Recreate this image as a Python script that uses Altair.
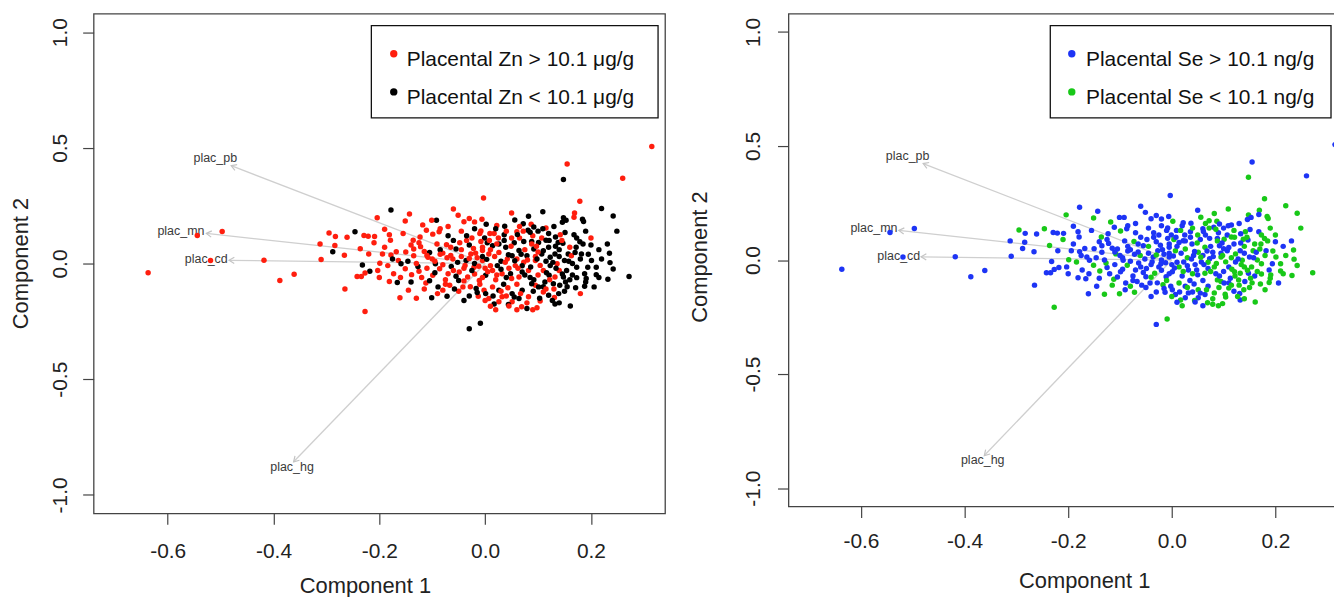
import altair as alt
import pandas as pd

# ---------------- data ----------------
pc1 = [
    -0.637, -0.544, -0.497, -0.519, -0.418, -0.388, -0.361, -0.312, -0.310, -0.295,
    0.315, -0.178, -0.246, -0.092, -0.143, -0.151, -0.204, -0.190, -0.283, -0.261,
    -0.229, -0.221, -0.209, -0.181, -0.179, -0.118, -0.101, -0.060, -0.051, -0.040,
    -0.030, -0.006, -0.003, -0.111, -0.099, -0.087, -0.123, -0.136, 0.155, 0.148,
    0.260, 0.179, 0.220, 0.242, 0.249, 0.050, 0.109, 0.082, 0.169, 0.168,
    0.148, 0.153, 0.146, 0.184, 0.186, 0.056, 0.002, 0.022, 0.037, 0.072,
    0.087, 0.092, 0.115, 0.081, 0.072, 0.060, 0.009, 0.017, -0.008, 0.036,
    0.151, 0.142, 0.133, 0.168, 0.173, 0.179, 0.231, -0.001, 0.004, 0.050,
    0.065, 0.101, 0.107, 0.115, 0.147, 0.088, 0.026, -0.288, -0.232, -0.218,
    -0.284, -0.266, -0.236, -0.220, -0.194, -0.178, -0.168, -0.199, -0.184, -0.203,
    -0.227, -0.242, -0.234, -0.265, -0.227, -0.161, -0.181, -0.173, -0.164, -0.151,
    -0.159, -0.166, -0.145, -0.146, -0.139, -0.135, -0.135, -0.122, -0.125, -0.127,
    -0.112, -0.101, -0.105, -0.099, -0.108, -0.105, -0.091, -0.094, -0.086, -0.089,
    -0.080, -0.072, -0.067, -0.070, -0.064, -0.061, -0.055, -0.073, -0.049, -0.050,
    -0.042, -0.033, -0.036, -0.027, -0.021, -0.017, -0.013, -0.011, -0.030, -0.009,
    -0.005, 0.235, 0.236, 0.242, 0.272, 0.232, 0.201, 0.210, 0.210, 0.194,
    0.188, 0.173, 0.173, 0.191, 0.206, 0.188, 0.171, 0.161, 0.132, 0.079,
    0.098, 0.069, 0.104, 0.131, 0.141, 0.154, 0.150, 0.157, 0.163, 0.170,
    0.160, 0.185, 0.182, 0.138, 0.132, 0.136, 0.123, 0.121, 0.113, 0.129,
    0.095, 0.101, 0.088, 0.070, 0.051, 0.051, 0.044, 0.045, 0.026, 0.017,
    0.007, -0.002, 0.001, 0.014, 0.026, -0.005, 0.007, -0.005, 0.014, 0.026,
    0.039, 0.042, 0.051, 0.057, 0.064, 0.073, 0.079, 0.088, 0.092, 0.095,
    0.107, 0.082, 0.070, 0.064, 0.048, 0.032, 0.023, 0.014, 0.001, 0.110,
    0.123, 0.132, 0.148, 0.110, 0.120, 0.082, 0.064, 0.032, -0.115, -0.080,
    -0.065, -0.045, -0.030, -0.015, 0.000, -0.040, -0.055, -0.020, -0.010, 0.020,
    0.035, 0.045, 0.060, 0.075, 0.030, 0.010, -0.025, -0.060, -0.045, -0.070,
    -0.020, 0.040, 0.055, 0.090, 0.120, 0.100, 0.120, 0.140, 0.100, 0.085,
    0.060, 0.040, 0.110, 0.150, 0.130, 0.160, 0.040, 0.020, 0.060, -0.030,
    -0.050, -0.100, -0.085, -0.140, -0.110, -0.075, -0.020, 0.005, 0.070, 0.095,
    0.115, 0.140, 0.165, 0.195, 0.215, 0.190, 0.200, -0.005, 0.025, -0.035,
    -0.095, -0.080, -0.072, -0.060, -0.052, -0.045, -0.038, -0.030, -0.025, -0.018,
    -0.012, -0.005, 0.003, 0.010, 0.018, 0.022, 0.030, 0.038, 0.044, 0.050,
    0.056, 0.062, 0.068, 0.075, 0.080, 0.086, 0.092, 0.098, 0.104, 0.110,
    0.116, 0.122, 0.128, 0.134, 0.140, 0.146, 0.152, 0.158, 0.165, 0.172,
    -0.110, -0.120, -0.130, -0.095, -0.085, -0.075, -0.065, -0.058, -0.048, -0.040,
    -0.035, -0.028, -0.022, -0.015, -0.008, 0.000, 0.008, 0.015, 0.022, 0.030,
    0.036, 0.043, 0.049, 0.055, 0.061, 0.067, 0.073, 0.079, 0.085, 0.091,
    0.097, 0.103, 0.109, 0.115, 0.121, 0.127, 0.133, 0.139, 0.145, 0.155,
    -0.150, -0.160, -0.140, -0.125, -0.115, -0.190, -0.200, -0.175, -0.155, -0.210,
    -0.085, -0.070, -0.010, 0.020, 0.065, 0.100, 0.130, 0.180, 0.190, 0.200,
    0.220, 0.215, 0.180, 0.140, 0.090, 0.010, -0.040, -0.090, -0.130, -0.020,
]

pc2 = [
    -0.040, 0.121, 0.138, 0.013, 0.014, -0.073, -0.046, 0.084, 0.017, 0.132,
    0.506, 0.231, 0.137, 0.187, 0.214, 0.184, 0.198, 0.148, 0.117, 0.114,
    0.121, 0.118, 0.117, 0.124, 0.101, 0.167, 0.187, 0.236, 0.209, 0.181,
    0.195, 0.191, 0.283, 0.144, 0.127, 0.137, 0.115, 0.101, 0.430, 0.363,
    0.369, 0.269, 0.238, 0.205, 0.140, 0.218, 0.224, 0.204, 0.218, 0.200,
    0.198, 0.187, 0.178, 0.191, 0.182, 0.188, 0.170, 0.164, 0.161, 0.172,
    0.170, 0.158, 0.154, 0.144, 0.140, 0.137, 0.130, 0.130, 0.141, 0.124,
    0.134, 0.124, 0.115, 0.124, 0.110, 0.094, 0.084, 0.110, 0.090, 0.110,
    0.110, 0.091, 0.110, 0.101, 0.088, 0.095, 0.084, 0.051, -0.006, -0.033,
    0.078, 0.036, 0.064, 0.041, 0.041, 0.037, 0.051, 0.001, -0.009, -0.030,
    -0.041, -0.056, -0.056, -0.110, -0.207, -0.148, -0.078, -0.044, 0.013, -0.023,
    -0.001, -0.082, -0.115, 0.010, -0.048, 0.034, 0.063, 0.073, -0.033, -0.013,
    -0.084, -0.148, -0.074, -0.051, 0.027, 0.048, 0.084, -0.001, -0.023, -0.101,
    -0.115, -0.141, -0.094, -0.044, -0.013, 0.020, 0.063, 0.081, -0.037, -0.073,
    -0.101, -0.058, 0.013, 0.041, -0.016, -0.108, -0.141, -0.073, -0.282, -0.258,
    0.056, 0.044, 0.004, -0.024, -0.056, -0.068, 0.013, -0.016, -0.048, -0.016,
    -0.044, -0.016, -0.061, -0.065, -0.101, -0.098, -0.105, -0.184, -0.175, -0.194,
    -0.191, -0.187, -0.162, -0.147, -0.094, -0.030, 0.013, 0.041, 0.034, 0.048,
    0.070, 0.084, 0.041, 0.091, 0.041, -0.001, -0.009, -0.051, -0.080, -0.087,
    -0.094, -0.101, -0.087, -0.115, -0.130, -0.165, -0.177, -0.184, -0.165, -0.175,
    -0.151, -0.115, -0.130, -0.101, -0.115, 0.013, 0.041, 0.070, 0.077, 0.048,
    0.070, 0.020, 0.034, -0.009, 0.056, 0.006, 0.034, 0.084, 0.063, 0.013,
    0.041, -0.030, -0.037, -0.058, -0.044, -0.044, -0.009, -0.030, -0.051, -0.030,
    0.027, -0.058, -0.058, -0.123, -0.137, -0.144, -0.151, -0.144, 0.052, 0.045,
    0.035, 0.060, 0.080, 0.025, -0.020, -0.020, -0.055, -0.045, -0.090, -0.070,
    -0.090, -0.020, 0.020, 0.060, 0.010, 0.060, 0.110, 0.100, 0.140, 0.160,
    0.150, 0.140, 0.090, 0.120, 0.130, 0.050, 0.070, 0.060, -0.050, -0.060,
    -0.090, -0.060, -0.100, -0.120, -0.110, -0.070, -0.140, -0.200, -0.200, -0.140,
    -0.120, 0.020, 0.060, 0.080, -0.020, -0.070, 0.000, -0.035, -0.010, 0.030,
    0.010, -0.030, 0.000, 0.040, 0.060, 0.140, 0.110, 0.030, 0.110, 0.100,
    0.010, -0.005, 0.025, -0.030, 0.005, 0.030, -0.008, 0.022, -0.030, 0.045,
    -0.012, -0.060, 0.018, -0.010, 0.030, -0.050, -0.025, 0.005, 0.038, -0.065,
    0.012, -0.020, 0.040, -0.050, 0.015, -0.015, -0.070, 0.020, -0.008, 0.055,
    -0.040, -0.070, 0.005, -0.020, 0.030, -0.045, -0.080, 0.010, -0.050, 0.070,
    0.035, -0.060, 0.000, -0.040, 0.040, -0.090, 0.070, -0.110, 0.090, -0.075,
    0.120, -0.100, 0.065, -0.125, 0.095, -0.160, 0.100, -0.140, 0.085, -0.120,
    0.100, -0.105, 0.075, -0.145, 0.125, -0.130, 0.095, -0.170, 0.135, -0.120,
    0.075, -0.150, 0.150, -0.110, 0.100, -0.160, 0.075, -0.130, 0.100, -0.100,
    0.050, -0.060, -0.080, 0.090, -0.110, 0.070, -0.060, 0.020, 0.130, 0.090,
    0.150, 0.120, 0.130, 0.150, 0.160, 0.140, 0.160, 0.020, -0.080, 0.080,
    0.020, -0.060, -0.130, -0.170, -0.200, -0.185, -0.160, -0.130, -0.150, 0.180,
]

# 1 = placental Zn above 10.1 ug/g, 0 = below
zn_high = [
    1, 1, 1, 1, 1, 1, 1, 1, 1, 1,
    1, 0, 0, 0, 1, 1, 1, 1, 1, 1,
    1, 1, 1, 1, 1, 1, 1, 1, 1, 1,
    1, 1, 1, 1, 1, 1, 1, 1, 1, 0,
    1, 1, 0, 0, 0, 1, 0, 0, 1, 1,
    0, 0, 0, 0, 0, 0, 0, 1, 0, 0,
    1, 0, 1, 0, 1, 1, 1, 1, 1, 0,
    0, 1, 0, 0, 0, 0, 0, 0, 0, 1,
    1, 0, 1, 0, 0, 0, 0, 0, 0, 0,
    1, 1, 1, 1, 1, 1, 1, 1, 1, 1,
    1, 1, 1, 1, 1, 1, 1, 1, 1, 1,
    0, 0, 1, 0, 1, 1, 1, 1, 1, 0,
    1, 0, 0, 1, 1, 0, 1, 0, 1, 0,
    1, 0, 1, 1, 0, 1, 0, 1, 1, 0,
    1, 1, 0, 1, 1, 0, 1, 1, 0, 0,
    1, 0, 0, 0, 0, 0, 0, 0, 0, 0,
    0, 0, 0, 0, 0, 0, 0, 0, 0, 0,
    1, 1, 1, 1, 0, 0, 0, 0, 1, 0,
    1, 0, 0, 0, 0, 1, 0, 0, 0, 0,
    1, 0, 0, 0, 0, 1, 0, 1, 1, 0,
    1, 1, 0, 1, 0, 1, 1, 1, 0, 1,
    0, 1, 0, 1, 0, 1, 0, 1, 0, 1,
    0, 1, 0, 1, 0, 1, 0, 1, 0, 1,
    0, 1, 0, 1, 0, 1, 0, 1, 1, 1,
    1, 1, 0, 1, 1, 1, 0, 1, 1, 1,
    0, 1, 1, 1, 0, 1, 1, 0, 1, 1,
    0, 1, 0, 1, 0, 1, 0, 0, 1, 0,
    1, 0, 0, 0, 1, 0, 1, 1, 1, 0,
    1, 1, 0, 1, 1, 1, 0, 1, 0, 1,
    0, 1, 0, 0, 0, 0, 1, 0, 1, 1,
    1, 1, 1, 1, 0, 1, 1, 1, 0, 1,
    1, 1, 0, 1, 1, 1, 0, 1, 0, 1,
    0, 1, 0, 0, 1, 0, 0, 0, 1, 0,
    0, 1, 0, 0, 0, 0, 0, 0, 0, 0,
    1, 1, 1, 0, 1, 1, 1, 0, 1, 1,
    0, 1, 1, 0, 1, 1, 1, 0, 1, 1,
    0, 1, 1, 0, 0, 1, 0, 1, 0, 0,
    1, 0, 0, 1, 0, 0, 0, 0, 1, 0,
    1, 1, 0, 1, 1, 1, 1, 0, 1, 1,
    1, 0, 1, 0, 1, 0, 0, 0, 0, 0,
    0, 0, 1, 0, 1, 1, 0, 1, 1, 1,
]

# 1 = placental Se above 10.1 ng/g, 0 = below
se_high = [
    1, 1, 1, 1, 1, 1, 1, 1, 1, 0,
    1, 1, 0, 1, 1, 0, 0, 1, 1, 1,
    1, 1, 1, 1, 1, 0, 1, 1, 1, 1,
    1, 1, 1, 1, 0, 1, 1, 0, 1, 0,
    1, 0, 0, 0, 0, 1, 0, 0, 0, 1,
    0, 1, 1, 0, 0, 0, 0, 1, 1, 0,
    0, 1, 1, 1, 0, 1, 1, 0, 1, 1,
    1, 0, 1, 1, 0, 0, 1, 1, 0, 0,
    1, 0, 1, 0, 1, 1, 1, 1, 1, 1,
    1, 1, 0, 1, 1, 1, 1, 0, 0, 1,
    1, 1, 1, 1, 0, 1, 1, 1, 1, 0,
    1, 1, 1, 1, 0, 1, 1, 1, 1, 0,
    0, 0, 1, 1, 0, 1, 1, 1, 0, 1,
    0, 0, 1, 1, 1, 0, 1, 0, 1, 1,
    1, 0, 1, 1, 1, 0, 1, 1, 1, 0,
    1, 0, 0, 0, 0, 0, 0, 0, 0, 1,
    1, 0, 0, 0, 1, 0, 0, 0, 1, 0,
    0, 0, 0, 1, 1, 0, 1, 0, 1, 0,
    0, 0, 1, 0, 1, 0, 1, 0, 1, 0,
    0, 1, 0, 1, 0, 1, 0, 1, 1, 0,
    1, 1, 1, 0, 1, 1, 0, 1, 1, 0,
    1, 1, 0, 1, 0, 1, 1, 0, 1, 0,
    1, 0, 1, 0, 1, 1, 1, 0, 1, 1,
    0, 0, 1, 0, 1, 0, 1, 1, 1, 1,
    1, 0, 1, 1, 1, 1, 1, 1, 0, 1,
    1, 1, 1, 1, 0, 1, 1, 1, 1, 1,
    1, 0, 1, 1, 0, 1, 1, 0, 1, 1,
    1, 0, 1, 0, 0, 1, 1, 0, 1, 1,
    1, 1, 1, 1, 1, 1, 1, 1, 0, 1,
    0, 0, 0, 0, 1, 0, 0, 1, 1, 1,
    1, 1, 1, 1, 1, 1, 1, 0, 1, 1,
    1, 1, 1, 1, 1, 0, 1, 1, 1, 1,
    0, 1, 1, 0, 1, 0, 1, 0, 0, 1,
    0, 0, 1, 0, 1, 0, 0, 1, 0, 0,
    1, 1, 1, 1, 1, 1, 1, 1, 1, 0,
    1, 1, 1, 1, 1, 0, 1, 1, 1, 0,
    1, 1, 0, 1, 1, 0, 1, 0, 0, 0,
    1, 0, 1, 0, 0, 0, 1, 0, 0, 0,
    1, 1, 1, 1, 0, 1, 1, 1, 1, 0,
    1, 1, 1, 1, 0, 1, 1, 0, 0, 1,
    0, 0, 0, 0, 0, 1, 1, 1, 0, 1,
]

loading_names = ["plac_pb", "plac_mn", "plac_cd", "plac_hg"]
loading_x = [-0.480, -0.527, -0.484, -0.362]
loading_y = [0.423, 0.130, 0.014, -0.857]
label_x = [-0.510, -0.575, -0.527, -0.365]
label_y = [0.454, 0.141, 0.018, -0.878]

zn_labels = ["Placental Zn > 10.1 μg/g", "Placental Zn < 10.1 μg/g"]
se_labels = ["Placental Se > 10.1 ng/g", "Placental Se < 10.1 ng/g"]
x_ticks = [-0.6, -0.4, -0.2, 0.0, 0.2]
y_ticks = [-1.0, -0.5, 0.0, 0.5, 1.0]
x_limits = [-0.7, 0.3]
y_limits = [-1.0, 1.0]

assert len(pc1) == len(pc2) == len(zn_high) == len(se_high), (
    len(pc1), len(pc2), len(zn_high), len(se_high))

# ---------------- tables ----------------
points = pd.DataFrame({
    "pc1": pc1,
    "pc2": pc2,
    "zn": [zn_labels[0] if v else zn_labels[1] for v in zn_high],
    "se": [se_labels[0] if v else se_labels[1] for v in se_high],
})
loads = pd.DataFrame({"name": loading_names, "lx": loading_x, "ly": loading_y,
                      "tx": label_x, "ty": label_y})


def expand(lim):
    span = lim[1] - lim[0]
    return [lim[0] - 0.04 * span, lim[1] + 0.04 * span]


x_dom = expand(x_limits)
y_dom = expand(y_limits)

FONT = "Liberation Sans"
lab_expr = "replace(format(datum.value, '.1f'), '\u2212', '-')"


def panel(field, labels, colors, width, height, geo):
    xs = alt.Scale(domain=x_dom, nice=False, zero=False)
    ys = alt.Scale(domain=y_dom, nice=False, zero=False)
    cs = alt.Scale(domain=labels, range=colors)
    px_x = width / (x_dom[1] - x_dom[0])
    px_y = height / (y_dom[1] - y_dom[0])

    x_axis = alt.Axis(values=x_ticks, labelExpr=lab_expr, grid=False, domain=False,
                      tickSize=11, tickColor="#444", tickWidth=1.2,
                      labelFontSize=21, labelColor="#222", labelPadding=geo["xlp"],
                      labelFlush=False, labelOverlap=False,
                      titleFontSize=22, titleColor="#222", titleFontWeight="normal",
                      titleX=geo["xtx"], titleY=geo["xty"], titleAlign="center",
                      titleBaseline="top")
    y_axis = alt.Axis(values=y_ticks, labelExpr=lab_expr, grid=False, domain=False,
                      tickSize=11, tickColor="#444", tickWidth=1.2,
                      labelFontSize=21, labelColor="#222", labelPadding=geo["ylp"],
                      labelAngle=270, labelAlign="center", labelBaseline="alphabetic",
                      labelFlush=False, labelOverlap=False,
                      titleFontSize=22, titleColor="#222", titleFontWeight="normal",
                      titleAngle=270, titleX=geo["ytx"], titleY=geo["yty"],
                      titleAlign="center", titleBaseline="bottom")

    def X(f):
        return alt.X(f, scale=xs, axis=x_axis, title="Component 1")

    def Y(f):
        return alt.Y(f, scale=ys, axis=y_axis, title="Component 2")

    arrows = alt.Chart(loads).transform_calculate(ox="0", oy="0").mark_rule(
        color="#cfcfcf", strokeWidth=1.3
    ).encode(x=X("ox:Q"), y=Y("oy:Q"), x2="lx:Q", y2="ly:Q")
    heads = alt.Chart(loads).transform_calculate(
        ang=f"(atan2(-datum.ly * {px_y}, datum.lx * {px_x}) * 180 / PI + 360) % 360"
    ).mark_point(
        shape="M-1,-0.6L0,0L-1,0.6", filled=False, size=110, strokeWidth=1.2,
        color="#c4c4c4", opacity=1
    ).encode(x=X("lx:Q"), y=Y("ly:Q"), angle=alt.Angle("ang:Q", scale=None))
    names = alt.Chart(loads).mark_text(
        fontSize=12.5, color="#3a3a3a", align="center", baseline="middle", font=FONT
    ).encode(x=X("tx:Q"), y=Y("ty:Q"), text="name:N")
    dots = alt.Chart(points).mark_circle(size=30, opacity=1).encode(
        x=X("pc1:Q"), y=Y("pc2:Q"),
        color=alt.Color(f"{field}:N", scale=cs, legend=None),
    )

    leg = pd.DataFrame({field: labels, "row": [0, 1]})
    box = alt.Chart(pd.DataFrame({"k": [0]})).mark_rect(
        fill="white", stroke="#111", strokeWidth=1.3
    ).encode(
        x=alt.value(geo["bx0"]), x2=alt.value(geo["bx1"]),
        y=alt.value(geo["by0"]), y2=alt.value(geo["by1"]),
    )
    leg_dots = alt.Chart(leg).transform_calculate(
        py=f"{geo['dy0']} + datum.row * 38.3"
    ).mark_circle(size=55, opacity=1).encode(
        x=alt.value(geo["dx"]),
        y=alt.Y("py:Q", scale=None),
        color=alt.Color(f"{field}:N", scale=cs, legend=None),
    )
    leg_text = alt.Chart(leg).transform_calculate(
        py=f"{geo['dy0']} + 12.5 + datum.row * 38.3"
    ).mark_text(
        align="left", baseline="alphabetic", fontSize=21, color="#111", font=FONT
    ).encode(
        x=alt.value(geo["tx"]),
        y=alt.Y("py:Q", scale=None),
        text=f"{field}:N",
    )
    return alt.layer(arrows, heads, names, dots, box, leg_dots, leg_text).properties(
        width=width, height=height
    )


left = panel("zn", zn_labels, ["#ff1e0e", "#000000"], 574, 502,
             dict(xlp=16.7, xtx=272.5, xty=62.7, ylp=16, ytx=-61, yty=250.5,
                  bx0=279, bx1=567, by0=12, by1=104.7, dx=301.5, dy0=40.3, tx=314.5))
right = panel("se", se_labels, ["#1d34f5", "#18c818"], 562, 495,
              dict(xlp=13.4, xtx=297, xty=64.1, ylp=18, ytx=-77.5, yty=244,
                   bx0=263, bx1=545, by0=12, by1=104.7, dx=284.6, dy0=40.3, tx=298.9))

# the reference is cut at its right edge: a negative right padding crops the
# second panel the same way, and keeps the page no wider than the window
chart = alt.hconcat(left, right, spacing=21).resolve_scale(
    color="independent", x="independent", y="independent"
).properties(
    padding={"left": 1, "top": 3.35, "right": -15, "bottom": 0},
    background="white",
).configure(font=FONT).configure_view(stroke="#444", strokeWidth=1.3)

chart.save("out.html", embed_options={"renderer": "svg", "actions": False})
